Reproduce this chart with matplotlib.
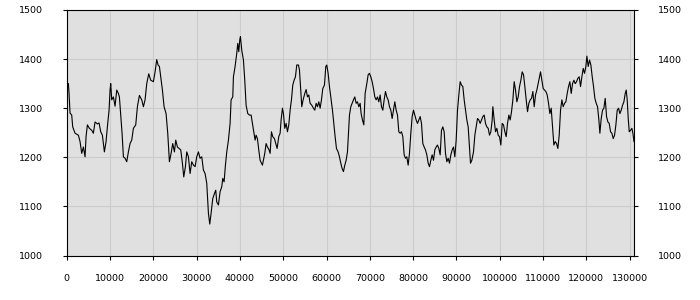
import matplotlib
matplotlib.use("Agg")
import matplotlib.pyplot as plt
import numpy as np

# valores (x, y)
xs = [0, 231, 385, 539, 770, 1155, 1386, 1925, 2695, 3080, 3465, 3850, 4235, 4466, 4774,
      5236, 5775, 6160, 6545, 7084, 7469, 7854, 8239, 8701, 9086, 9394, 9779, 10010, 10164,
      10395, 10780, 11165, 11550, 11935, 12166, 12474, 12782, 13090, 13475, 13860, 14245,
      14630, 15015, 15400, 15939, 16324, 16786, 17325, 17710, 18095, 18480, 18942, 19404,
      20020, 20405, 20790, 21098, 21406, 21714, 22099, 22484, 22946, 23331, 23716, 24101,
      24486, 24871, 25179, 25564, 25949, 26334, 26719, 27027, 27412, 27720, 28105, 28490,
      28875, 29260, 29645, 30030, 30415, 30800, 31185, 31570, 31955, 32340, 32725, 33033,
      33341, 33726, 34111, 34419, 34650, 35035, 35420, 35805, 36036, 36344, 36652, 36960,
      37345, 37730, 37961, 38346, 38500, 38885, 39270, 39501, 39732, 39963,
      40117, 40425, 40810, 41118, 41426, 41811, 42196, 42581, 42889, 43274, 43505, 43736,
      44044, 44352, 44660, 44968, 45199, 45430, 45738, 46046, 46354, 46739, 46970, 47278,
      47586, 47971, 48279, 48587, 48972, 49280, 49511, 49819, 50050, 50358, 50666, 50974,
      51282, 51590, 51898, 52206, 52514, 52822, 53130, 53515, 53746, 54054, 54285, 54593,
      54978, 55286, 55594, 55902, 56210, 56595, 56980, 57288, 57596, 57904, 58212, 58520,
      58828, 59136, 59521, 59829, 60060, 60368, 60676, 60984, 61369, 61677, 61985, 62293,
      62678, 62986, 63294, 63602, 63910, 64218, 64526, 64834, 65065, 65296, 65604, 65912,
      66220, 66528, 66836, 67144, 67452, 67760, 67991, 68299, 68607, 68915, 69300, 69608,
      69916, 70224, 70532, 70840, 71148, 71456, 71764, 72072, 72380, 72688, 72996, 73304,
      73612, 73920, 74228, 74536, 74844, 75152, 75460, 75768, 76076, 76384, 76692, 77000,
      77308, 77616, 77924, 78232, 78540, 78848, 79156, 79464, 79772, 80080, 80388, 80696,
      81004, 81312, 81620, 81928, 82236, 82544, 82852, 83160, 83468, 83776, 84084, 84392,
      84700, 85008, 85316, 85624, 85932, 86240, 86548, 86856, 87164, 87472, 87780, 88088,
      88396, 88704, 89012, 89320, 89628, 89936, 90244, 90552, 90860, 91168, 91476, 91784,
      92092, 92400, 92708, 93016,
      93247, 93555, 93940, 94248, 94556, 94864, 95172, 95480, 95788, 96096, 96404, 96712,
      97020, 97328, 97636, 97944, 98252, 98406, 98714, 99022, 99330, 99638, 99946, 100254,
      100562, 100870, 101178, 101486, 101794, 102102, 102410, 102718, 103026, 103334, 103642,
      103950, 104258, 104566, 104874, 105182, 105490, 105798, 106106, 106414, 106722, 107030,
      107338, 107646, 107954, 108262, 108570, 108878, 109186, 109417, 109725, 110033, 110341,
      110649, 110957, 111265, 111573, 111881, 112189, 112497, 112805, 113113, 113421, 113729,
      114037, 114345, 114653, 114961, 115269, 115577, 115885, 116193, 116501, 116809, 117117,
      117425, 117733, 118041, 118349, 118657, 118965, 119273, 119581, 119889, 120120, 120428,
      120736, 121044, 121352, 121660, 121968, 122276, 122584, 122892, 123123, 123431, 123739,
      124047, 124355, 124663, 124971, 125279, 125587, 125895, 126203, 126511, 126819, 127127,
      127435, 127743, 128051, 128359, 128667, 128975, 129206, 129437, 129668, 129899, 130207,
      130515, 130746, 131000]

ys = [1340, 1348, 1350, 1330, 1290, 1286, 1262, 1249, 1245, 1232, 1208, 1221, 1201, 1242, 1266,
      1259, 1255, 1249, 1272, 1268, 1270, 1252, 1245, 1211, 1232, 1262, 1296, 1337, 1350,
      1317, 1323, 1304, 1337, 1330, 1323, 1286, 1249, 1201, 1198, 1191, 1211,
      1228, 1235, 1259, 1266, 1303, 1326, 1317, 1303, 1317, 1350, 1370, 1357,
      1354, 1374, 1399, 1388, 1385, 1364, 1337, 1303, 1289, 1249, 1191, 1208,
      1228, 1211, 1235, 1221, 1218, 1215, 1188, 1160, 1181, 1211, 1201, 1167,
      1191, 1184, 1181, 1201, 1211, 1198, 1201, 1174, 1167, 1147, 1086, 1064,
      1086, 1116, 1126, 1133, 1109, 1103, 1130, 1140, 1157, 1150, 1184, 1211,
      1235, 1269, 1317, 1323, 1364, 1385, 1412, 1432, 1415, 1439,
      1446, 1418, 1398, 1357, 1306, 1289, 1286, 1286, 1269, 1249, 1235, 1245,
      1238, 1215, 1194, 1188, 1184, 1194, 1208, 1228, 1221, 1215, 1208, 1252,
      1242, 1238, 1228, 1218, 1242, 1249, 1276, 1300, 1289, 1259, 1269, 1252,
      1266, 1296, 1317, 1347, 1357, 1364, 1388, 1388, 1378, 1337, 1303, 1317,
      1330, 1338, 1323, 1327, 1310, 1306, 1300, 1296, 1310, 1303, 1313, 1300,
      1317, 1340, 1347, 1385, 1388, 1371, 1344, 1323, 1296, 1269, 1242, 1218,
      1211, 1201, 1188, 1177, 1171, 1184, 1194, 1211, 1249, 1286, 1303, 1310,
      1317, 1323, 1310, 1313, 1303, 1310, 1289, 1276, 1266, 1330, 1350, 1368,
      1371, 1364, 1354, 1340, 1323, 1317, 1323, 1313, 1327, 1303, 1296, 1317,
      1334, 1323, 1317, 1303, 1296, 1279, 1296, 1313, 1296, 1286, 1252, 1249,
      1252, 1242, 1205, 1198, 1201, 1184, 1208, 1249, 1283, 1296, 1286, 1276,
      1269, 1276, 1283, 1269, 1228, 1221, 1215, 1205, 1188, 1181, 1194, 1205,
      1194, 1215, 1221, 1225, 1218, 1205, 1255, 1262, 1252, 1208, 1191, 1198,
      1188, 1205, 1215, 1221, 1201, 1235, 1296, 1327, 1354, 1347, 1344, 1317,
      1296, 1276, 1262, 1221,
      1188, 1194, 1211, 1245, 1262, 1279, 1276, 1269, 1276, 1283, 1286, 1269,
      1262, 1259, 1245, 1252, 1276, 1303, 1276, 1252, 1259, 1245, 1242, 1225,
      1269, 1266, 1252, 1242, 1269, 1286, 1276, 1293, 1317, 1354, 1337,
      1313, 1323, 1344, 1357, 1374, 1368, 1344, 1317, 1293, 1310,
      1317, 1320, 1334, 1303, 1327, 1337, 1350, 1364, 1374, 1357, 1340, 1337,
      1334, 1327, 1310, 1289, 1300, 1262, 1225, 1232, 1228, 1218, 1245,
      1296, 1317, 1303, 1310, 1313, 1330, 1344, 1354, 1330, 1350, 1357,
      1350, 1354, 1361, 1364, 1344, 1364, 1381, 1371, 1385, 1406, 1385,
      1398, 1388, 1364, 1344, 1320, 1310, 1303, 1276, 1249, 1279, 1296,
      1300, 1320, 1283, 1272, 1269, 1252, 1249, 1238, 1245, 1266, 1296,
      1300, 1289, 1296, 1306, 1313, 1330, 1337, 1317, 1279, 1252, 1255,
      1259, 1249, 1232]

xticks = list(range(0, 130001, 10000))
yticks = [1000, 1100, 1200, 1300, 1400, 1500]

fig = plt.figure(figsize=(7, 3), dpi=100)
ax = fig.add_axes([0.0953, 0.1483, 0.8104, 0.8184])
ax.set_facecolor("#e0e0e0")
ax.plot(xs, ys, color="black", lw=0.8)

ax.set_xlim(0, 131000)
ax.set_ylim(1000, 1500)
ax.set_xticks(xticks)
ax.set_xticklabels([str(t) for t in xticks])
ax.set_yticks(yticks)
ax.grid(True, color="#cccccc", lw=0.8)
ax.set_axisbelow(True)

for s in ax.spines.values():
    s.set_color("black")
    s.set_linewidth(0.8)

ax.tick_params(axis="both", direction="out", length=3, width=0.8, labelsize=6.8)
ax.tick_params(axis="y", left=True, right=True, labelleft=True, labelright=True, pad=14)
ax.tick_params(axis="x", pad=10)

fig.savefig("out.png", dpi=100)
